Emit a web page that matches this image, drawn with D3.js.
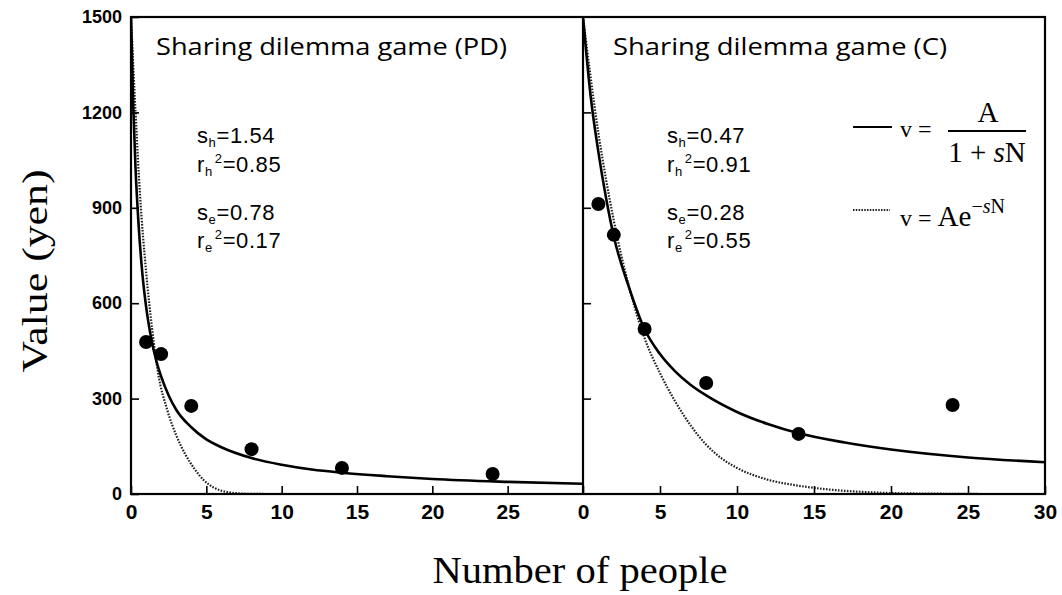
<!DOCTYPE html>
<html>
<head>
<meta charset="utf-8">
<script src="https://cdn.jsdelivr.net/npm/d3@7"></script>
<style>
  body { margin: 0; background: #fff; }
  .tick text { fill: #000; }
</style>
</head>
<body>
<script>
"use strict";
// data
let xTicksLeft = [0, 5, 10, 15, 20, 25];
let xTicksRight = [0, 5, 10, 15, 20, 25, 30];
let yTicks = [0, 300, 600, 900, 1200, 1500];

let pdPeople = [1, 2, 4, 8, 14, 24];
let pdValue = [478, 440, 277, 141, 82, 63];
let cPeople = [1, 2, 4, 8, 14, 24];
let cValue = [912, 815, 519, 349, 189, 280];

let pdHyperbolic = [[0,1500],[0.15,1220],[0.3,1025],[0.5,850],[0.75,695],[1,590],[1.3,500],[1.7,415],[2,370],[2.5,310],[3,265],[4,210],[5,172],[6,147],[8,113],[10,92],[12,77],[14,67],[17,56],[20,47],[25,38],[30,32]];
let pdExponential = [[0,1500],[0.3,1200],[0.6,940],[1,700],[1.4,520],[1.8,380],[2.4,265],[3,185],[3.6,125],[4.2,80],[4.8,45],[5.5,20],[6.3,7],[7.5,1],[9,0]];
let cHyperbolic = [[0,1500],[0.5,1250],[1,1075],[1.5,930],[2,810],[3,648],[4,518],[5,440],[6,385],[7,343],[8,310],[10,258],[12,220],[14,191],[17,162],[20,140],[25,115],[30,100]];
let cExponential = [[0,1500],[1,1135],[2,860],[3,650],[4,490],[5,380],[6,290],[7,215],[8,155],[9,112],[10,82],[12,45],[14,26],[16,14],[18,7],[20,3],[23,1],[26,0]];

let panelTitles = ["Sharing dilemma game (PD)", "Sharing dilemma game (C)"];
let pdStats = [["s", "h", "", "=1.54"], ["r", "h", "2", "=0.85"], ["s", "e", "", "=0.78"], ["r", "e", "2", "=0.17"]];
let cStats = [["s", "h", "", "=0.47"], ["r", "h", "2", "=0.91"], ["s", "e", "", "=0.28"], ["r", "e", "2", "=0.55"]];

let svg = d3.select("body")
            .append("svg")
            .attr("width", 1062)
            .attr("height", 595)

let plotTop = 17, plotBottom = 494, plotLeft = 131, plotMid = 583, plotRight = 1045;
let sansFont = "'Open Sans', 'Noto Sans', sans-serif";
let statFont = "'Liberation Sans', sans-serif";
let tickFont = "'Liberation Sans Narrow', 'Liberation Sans', sans-serif";
let serifFont = "'Liberation Serif', 'DejaVu Serif', serif";

let y = d3.scaleLinear().domain([0, 1500]).range([plotBottom, plotTop]);
let xLeft = d3.scaleLinear().domain([0, 30]).range([plotLeft, plotMid]);
let xRight = d3.scaleLinear().domain([0, 30]).range([plotMid, plotRight]);

let defs = svg.append("defs");
defs.append("clipPath").attr("id", "clipL").append("rect")
    .attr("x", plotLeft).attr("y", plotTop).attr("width", plotMid - plotLeft).attr("height", plotBottom - plotTop);
defs.append("clipPath").attr("id", "clipR").append("rect")
    .attr("x", plotMid).attr("y", plotTop).attr("width", plotRight - plotMid).attr("height", plotBottom - plotTop);

function drawPanel(x, clip, hyper, expo, people, values) {
    let line = d3.line()
                 .x(d => x(d[0]))
                 .y(d => y(d[1]))
                 .curve(d3.curveMonotoneX);
    let g = svg.append("g").attr("clip-path", "url(#" + clip + ")");
    g.append("path")
     .attr("d", line(expo))
     .attr("fill", "none")
     .attr("stroke", "#222")
     .attr("stroke-width", 2.2)
     .attr("stroke-dasharray", "1.6,1.4");
    g.append("path")
     .attr("d", line(hyper))
     .attr("fill", "none")
     .attr("stroke", "#000")
     .attr("stroke-width", 2.6);
    svg.append("g")
       .selectAll("circle")
       .data(people)
       .enter()
       .append("circle")
       .attr("cx", d => x(d))
       .attr("cy", (d, i) => y(values[i]))
       .attr("r", 7)
       .attr("fill", "#000");
}

drawPanel(xLeft, "clipL", pdHyperbolic, pdExponential, pdPeople, pdValue);
drawPanel(xRight, "clipR", cHyperbolic, cExponential, cPeople, cValue);

// axes
let axLeftX = svg.append("g")
    .attr("transform", "translate(0," + plotBottom + ")")
    .call(d3.axisBottom(xLeft).tickValues(xTicksLeft).tickSizeInner(-8).tickSizeOuter(0).tickPadding(10));
let axRightX = svg.append("g")
    .attr("transform", "translate(0," + plotBottom + ")")
    .call(d3.axisBottom(xRight).tickValues(xTicksRight).tickSizeInner(-8).tickSizeOuter(0).tickPadding(10));
[axLeftX, axRightX].forEach(a => {
    a.select(".domain").remove();
    a.selectAll("text").attr("font-family", tickFont).attr("font-size", 21).attr("font-weight", "bold");
    a.selectAll("line").attr("stroke-width", 1.6);
});

let axY = svg.append("g")
    .attr("transform", "translate(" + plotLeft + ",0)")
    .call(d3.axisLeft(y).tickValues(yTicks).tickFormat(d3.format("d")).tickSizeInner(-8).tickSizeOuter(0).tickPadding(9));
axY.select(".domain").remove();
axY.selectAll("text").attr("font-family", "'Liberation Sans', sans-serif").attr("font-size", 18).attr("font-weight", "bold");
axY.selectAll("line").attr("stroke-width", 1.6);

let axY2 = svg.append("g")
    .attr("transform", "translate(" + plotMid + ",0)")
    .call(d3.axisRight(y).tickValues(yTicks.slice(1, 5)).tickSize(8).tickFormat(""));
axY2.select(".domain").remove();
axY2.selectAll("line").attr("stroke-width", 1.6);

// frame
svg.append("rect")
   .attr("x", plotLeft).attr("y", plotTop)
   .attr("width", plotRight - plotLeft).attr("height", plotBottom - plotTop)
   .attr("fill", "none").attr("stroke", "#000").attr("stroke-width", 2.2);
svg.append("line")
   .attr("x1", plotMid).attr("x2", plotMid).attr("y1", plotTop).attr("y2", plotBottom)
   .attr("stroke", "#000").attr("stroke-width", 2.2);

// titles
svg.selectAll(".ptitle")
   .data(panelTitles)
   .enter()
   .append("text")
   .attr("x", (d, i) => i ? 613 : 156)
   .attr("y", 55)
   .attr("textLength", (d, i) => i ? 334 : 351)
   .attr("lengthAdjust", "spacingAndGlyphs")
   .attr("font-family", sansFont)
   .attr("font-size", 24)
   .text(d => d);

function drawStats(stats, x0) {
    let base = [143, 172, 220, 248];
    stats.forEach((s, i) => {
        let t = svg.append("text")
                   .attr("x", x0).attr("y", base[i])
                   .attr("font-family", statFont)
                   .attr("font-size", 22)
                   .attr("letter-spacing", 0.6);
        t.append("tspan").text(s[0]);
        t.append("tspan").attr("font-size", 13).attr("dy", 4).text(s[1]);
        if (s[2]) {
            t.append("tspan").attr("font-size", 13).attr("dy", -13).attr("dx", 2).text(s[2]);
            t.append("tspan").attr("dy", 9).text(s[3]);
        } else {
            t.append("tspan").attr("dy", -4).text(s[3]);
        }
    });
}
drawStats(pdStats, 197);
drawStats(cStats, 667);

// legend
svg.append("line").attr("x1", 853).attr("x2", 892).attr("y1", 127).attr("y2", 127)
   .attr("stroke", "#000").attr("stroke-width", 1.8);
svg.append("text").attr("x", 900).attr("y", 137).attr("font-family", serifFont).attr("font-size", 24).text("v =");
svg.append("text").attr("x", 988).attr("y", 122).attr("text-anchor", "middle")
   .attr("font-family", serifFont).attr("font-size", 29).text("A");
svg.append("line").attr("x1", 948).attr("x2", 1026).attr("y1", 131).attr("y2", 131)
   .attr("stroke", "#000").attr("stroke-width", 1.8);
let den = svg.append("text").attr("x", 987).attr("y", 162).attr("text-anchor", "middle")
   .attr("font-family", serifFont).attr("font-size", 29);
den.append("tspan").text("1 + ");
den.append("tspan").attr("font-style", "italic").text("s");
den.append("tspan").text("N");

svg.append("line").attr("x1", 853).attr("x2", 890).attr("y1", 210).attr("y2", 210)
   .attr("stroke", "#222").attr("stroke-width", 1.8).attr("stroke-dasharray", "1.5,1.3");
let ex = svg.append("text").attr("x", 900).attr("y", 226)
   .attr("font-family", serifFont).attr("font-size", 29);
ex.append("tspan").attr("font-size", 24).text("v = ");
ex.append("tspan").text("Ae");
ex.append("tspan").attr("font-size", 20).attr("dy", -13).text("\u2212");
ex.append("tspan").attr("font-size", 20).attr("font-style", "italic").text("s");
ex.append("tspan").attr("font-size", 20).text("N");

// axis titles
svg.append("text")
   .attr("transform", "translate(47,271) rotate(-90)")
   .attr("text-anchor", "middle")
   .attr("textLength", 203)
   .attr("lengthAdjust", "spacingAndGlyphs")
   .attr("font-family", serifFont)
   .attr("font-size", 36)
   .text("Value (yen)");
svg.append("text")
   .attr("x", 580).attr("y", 583)
   .attr("text-anchor", "middle")
   .attr("textLength", 295)
   .attr("lengthAdjust", "spacingAndGlyphs")
   .attr("font-family", serifFont)
   .attr("font-size", 37)
   .text("Number of people");
</script>
</body>
</html>
